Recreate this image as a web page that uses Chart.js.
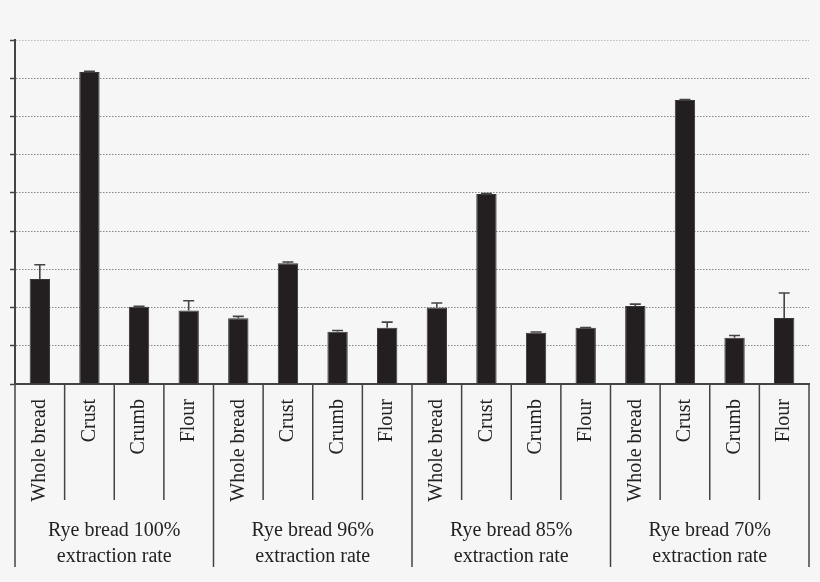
<!DOCTYPE html>
<html>
<head>
<meta charset="utf-8">
<script src="https://cdn.jsdelivr.net/npm/chart.js@4"></script>
<style>
  html, body { margin: 0; padding: 0; background: #f6f6f6; }
  #wrap { width: 820px; height: 582px; position: relative; }
</style>
</head>
<body>
<div id="wrap"><canvas id="c"></canvas></div>
<script>
// ---- data ----
const groups = [
  ['Rye bread 100%', 'extraction rate'],
  ['Rye bread 96%', 'extraction rate'],
  ['Rye bread 85%', 'extraction rate'],
  ['Rye bread 70%', 'extraction rate']
];
const parts = ['Whole bread', 'Crust', 'Crumb', 'Flour'];
const values = [
  2.75, 8.16, 2.02, 1.92,
  1.72, 3.16, 1.37, 1.47,
  2.00, 4.97, 1.34, 1.47,
  2.04, 7.43, 1.21, 1.73
];
const errors = [
  0.37, 0.02, 0.01, 0.26,
  0.05, 0.03, 0.03, 0.15,
  0.12, 0.01, 0.02, 0.01,
  0.05, 0.01, 0.06, 0.65
];
const yMin = 0, yMax = 9, yStep = 1;

const categories = [];
groups.forEach(() => parts.forEach(p => categories.push(p)));

const serif = 'Liberation Serif';
const ink = '#222222';
const lineCol = '#444444';

const bgPlugin = {
  id: 'bg',
  beforeDraw(chart) {
    const ctx = chart.ctx;
    ctx.save();
    ctx.fillStyle = '#f6f6f6';
    ctx.fillRect(0, 0, chart.width, chart.height);
    ctx.restore();
  }
};

const errorPlugin = {
  id: 'errbars',
  afterDatasetsDraw(chart) {
    const ctx = chart.ctx;
    const y = chart.scales.y;
    const meta = chart.getDatasetMeta(0);
    ctx.save();
    ctx.strokeStyle = lineCol;
    ctx.lineWidth = 1.6;
    meta.data.forEach((bar, i) => {
      const top = y.getPixelForValue(values[i] + errors[i]);
      const base = bar.y;
      ctx.beginPath();
      ctx.moveTo(bar.x, base);
      ctx.lineTo(bar.x, top);
      ctx.moveTo(bar.x - 5.5, top);
      ctx.lineTo(bar.x + 5.5, top);
      ctx.stroke();
    });
    ctx.restore();
  }
};

const dividerPlugin = {
  id: 'dividers',
  afterDraw(chart) {
    const ctx = chart.ctx;
    const x = chart.scales.x;
    const n = categories.length;
    const half = (x.getPixelForValue(1) - x.getPixelForValue(0)) / 2;
    const top = chart.chartArea.bottom;
    ctx.save();
    ctx.strokeStyle = lineCol;
    ctx.lineWidth = 1.5;
    for (let i = 0; i <= n; i++) {
      const px = i < n ? x.getPixelForValue(i) - half : x.getPixelForValue(n - 1) + half;
      const bottom = (i % parts.length === 0) ? chart.height - 15 : top + 116;
      ctx.beginPath();
      ctx.moveTo(px, top);
      ctx.lineTo(px, bottom);
      ctx.stroke();
    }
    ctx.restore();
  }
};

function noSidePadding(scale) {
  scale.paddingLeft = 0;
  scale.paddingRight = 0;
}

new Chart(document.getElementById('c'), {
  type: 'bar',
  data: {
    labels: categories,
    datasets: [{
      data: values,
      backgroundColor: '#231f20',
      borderColor: '#3a3637',
      borderWidth: 1,
      barPercentage: 0.41,
      categoryPercentage: 1.0
    }]
  },
  options: {
    responsive: true,
    maintainAspectRatio: false,
    animation: false,
    devicePixelRatio: 1,
    layout: { padding: { left: 10, right: 11, top: 40, bottom: 0 } },
    plugins: {
      legend: { display: false },
      tooltip: { enabled: false }
    },
    scales: {
      y: {
        min: yMin, max: yMax,
        ticks: { display: false, stepSize: yStep },
        grid: {
          color: (c) => (c.tick && c.tick.value === yMax) ? '#bdbdbd' : '#858585',
          lineWidth: 1,
          drawTicks: true,
          tickLength: 5,
          tickColor: lineCol,
          tickWidth: 1.5,
          tickBorderDash: []
        },
        border: { display: true, color: lineCol, width: 2, dash: [1.5, 1.5] }
      },
      x: {
        type: 'category',
        position: 'bottom',
        offset: true,
        grid: { display: false },
        border: { display: true, color: lineCol, width: 2 },
        ticks: {
          autoSkip: false,
          maxRotation: 90,
          minRotation: 90,
          padding: 7,
          color: ink,
          font: { family: serif, size: 20 }
        },
        afterFit(scale) { scale.height = 124; noSidePadding(scale); }
      },
      x2: {
        type: 'category',
        position: 'bottom',
        labels: groups,
        offset: true,
        grid: { display: false },
        border: { display: false },
        ticks: {
          autoSkip: false,
          maxRotation: 0,
          minRotation: 0,
          padding: 2,
          color: ink,
          font: { family: serif, size: 20, lineHeight: 1.3 }
        },
        afterFit(scale) { scale.height = 74; noSidePadding(scale); }
      }
    }
  },
  plugins: [bgPlugin, errorPlugin, dividerPlugin]
});
</script>
</body>
</html>
